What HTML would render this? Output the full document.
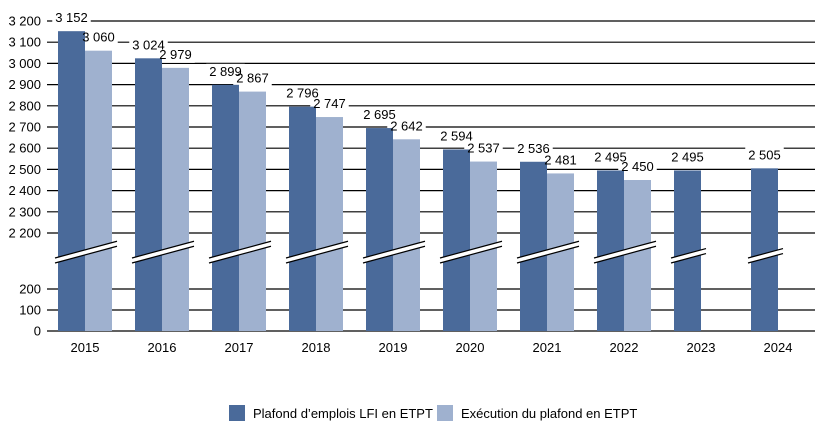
<!DOCTYPE html>
<html><head><meta charset="utf-8"><style>
body{margin:0;background:#fff;}
svg text{font-family:"Liberation Sans",sans-serif;font-size:13px;fill:#000;}
</style></head><body>
<svg width="824" height="433">
<g id="grid"></g><g id="lbg"></g><g id="bars"></g><g id="labels"></g>
<g>
<rect x="229" y="405" width="16" height="16" fill="#4a6a9a"/>
<text x="253" y="418">Plafond d’emplois LFI en ETPT</text>
<rect x="437" y="405" width="16" height="16" fill="#9fb1cf"/>
<text x="461" y="418">Exécution du plafond en ETPT</text>
</g>
</svg>
<script>
const years=["2015","2016","2017","2018","2019","2020","2021","2022","2023","2024"];
const plafond=[3152,3024,2899,2796,2695,2594,2536,2495,2495,2505];
const execution=[3060,2979,2867,2747,2642,2537,2481,2450,null,null];
const upperTicks=[2200,2300,2400,2500,2600,2700,2800,2900,3000,3100,3200];
const lowerTicks=[0,100,200];
const NS="http://www.w3.org/2000/svg";
function yU(v){return 233-(v-2200)*0.212;}
function yL(v){return 331-v*0.21;}
function fmt(v){return String(v).replace(/\B(?=(\d{3})+(?!\d))/g," ");}
function mk(t,a,p){const e=document.createElementNS(NS,t);for(const k in a)e.setAttribute(k,a[k]);p.appendChild(e);return e;}
const G=document.getElementById('grid'),BG=document.getElementById('lbg'),B=document.getElementById('bars'),L=document.getElementById('labels');
function grid(v,y){
 const l=mk('line',{x1:47,x2:815,y1:y,y2:y,stroke:'#000','stroke-width':1.2},G);
 
 
 const t=mk('text',{x:41,y:y+4.5,'text-anchor':'end'},G);t.textContent=fmt(v);
 
 
}
upperTicks.forEach(v=>grid(v,yU(v)));
lowerTicks.forEach(v=>grid(v,yL(v)));
function bar(i,v,off,col,name){
 const x=58+77*i+off,y=yU(v);
 const r=mk('rect',{x:x,y:y,width:27,height:331-y,fill:col},B);
 
 
 const w=fmt(v).length*7.3+2;
 mk('rect',{x:x+13.5-w/2,y:y-21,width:w,height:16,fill:'#fff'},BG);
 const t=mk('text',{x:x+13.5,y:y-9,'text-anchor':'middle'},L);t.textContent=fmt(v);
 
 
}
years.forEach((yr,i)=>{
 bar(i,plafond[i],0,'#4a6a9a','plafond');
 if(execution[i]!=null)bar(i,execution[i],27,'#9fb1cf','execution');
 const x0=55+77*i,x1=x0+(execution[i]!=null?62:35),dy=(x1-x0)*0.27;
 const br=mk('polygon',{points:`${x0},${263} ${x1},${263-dy} ${x1},${258-dy} ${x0},${258}`,fill:'#fff'},B);
 
 
 mk('line',{x1:x0,y1:263,x2:x1,y2:263-dy,stroke:'#000','stroke-width':1.2},B);
 mk('line',{x1:x0,y1:258,x2:x1,y2:258-dy,stroke:'#000','stroke-width':1.2},B);
 const t=mk('text',{x:85+77*i,y:352,'text-anchor':'middle'},L);t.textContent=yr;
 
 
});
</script>
</body></html>
